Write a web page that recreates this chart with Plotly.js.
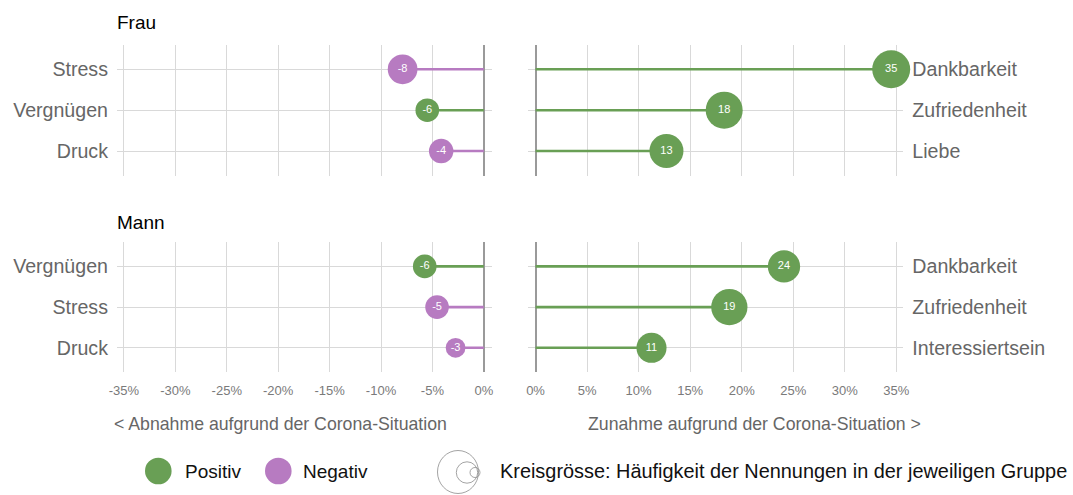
<!DOCTYPE html>
<html>
<head>
<meta charset="utf-8">
<script src="https://cdn.plot.ly/plotly-3.0.1.min.js"></script>
<style>
  body { margin: 0; background: #fff; }
  #chart { width: 1073px; height: 495px; }
</style>
</head>
<body>
<div id="chart"></div>
<script>
// Frau, Abnahme
var frauNegKat = ["Stress", "Vergnügen", "Druck"];
var frauNegWert = [-7.9, -5.5, -4.15];
var frauNegLabel = ["-8", "-6", "-4"];
var frauNegN = [84, 53, 57];
var frauNegTyp = ["Negativ", "Positiv", "Negativ"];

// Frau, Zunahme
var frauPosKat = ["Dankbarkeit", "Zufriedenheit", "Liebe"];
var frauPosWert = [34.5, 18.3, 12.7];
var frauPosLabel = ["35", "18", "13"];
var frauPosN = [137, 130, 110];
var frauPosTyp = ["Positiv", "Positiv", "Positiv"];

// Mann, Abnahme
var mannNegKat = ["Vergnügen", "Stress", "Druck"];
var mannNegWert = [-5.75, -4.55, -2.75];
var mannNegLabel = ["-6", "-5", "-3"];
var mannNegN = [53, 53, 37];
var mannNegTyp = ["Positiv", "Negativ", "Negativ"];

// Mann, Zunahme
var mannPosKat = ["Dankbarkeit", "Zufriedenheit", "Interessiertsein"];
var mannPosWert = [24.1, 18.8, 11.25];
var mannPosLabel = ["24", "19", "11"];
var mannPosN = [99, 125, 86];
var mannPosTyp = ["Positiv", "Positiv", "Positiv"];

var tickNeg = [-35, -30, -25, -20, -15, -10, -5, 0];
var tickNegText = ["-35%", "-30%", "-25%", "-20%", "-15%", "-10%", "-5%", "0%"];
var tickPos = [0, 5, 10, 15, 20, 25, 30, 35];
var tickPosText = ["0%", "5%", "10%", "15%", "20%", "25%", "30%", "35%"];

var farben = { Positiv: "#699f55", Negativ: "#b77bc1" };
var schrift = "Helvetica, 'Liberation Sans', Arial, sans-serif";

function panel(kat, wert, label, n, typ, xa, ya) {
  var traces = [];
  for (var i = 0; i < kat.length; i++) {
    traces.push({
      type: "scatter", mode: "lines",
      x: [0, wert[i]], y: [kat[i], kat[i]],
      xaxis: xa, yaxis: ya,
      line: { color: farben[typ[i]], width: 2.6 },
      hoverinfo: "skip", showlegend: false
    });
  }
  traces.push({
    type: "scatter", mode: "markers+text",
    x: wert, y: kat, text: label,
    xaxis: xa, yaxis: ya,
    cliponaxis: false,
    textposition: "middle center",
    textfont: { family: schrift, size: 11, color: "#ffffff" },
    marker: {
      size: n, sizemode: "area", sizeref: 0.19,
      color: typ.map(function (t) { return farben[t]; }),
      line: { width: 0 }, opacity: 1
    },
    hoverinfo: "skip", showlegend: false
  });
  return traces;
}

var data = []
  .concat(panel(frauNegKat, frauNegWert, frauNegLabel, frauNegN, frauNegTyp, "x", "y"))
  .concat(panel(frauPosKat, frauPosWert, frauPosLabel, frauPosN, frauPosTyp, "x2", "y2"))
  .concat(panel(mannNegKat, mannNegWert, mannNegLabel, mannNegN, mannNegTyp, "x3", "y3"))
  .concat(panel(mannPosKat, mannPosWert, mannPosLabel, mannPosN, mannPosTyp, "x4", "y4"));

var domLinks = [0.1090, 0.4583];
var domRechts = [0.4917, 0.8419];
var domOben = [0.6453, 0.9095];
var domUnten = [0.2481, 0.5111];

function xAchse(dom, range, vals, texte, anchor, zeigen) {
  return {
    domain: dom, range: range, anchor: anchor,
    tickvals: vals, ticktext: texte, showticklabels: zeigen,
    ticks: "", ticklabelstandoff: 9,
    tickfont: { family: schrift, size: 13, color: "#7a7a7a" },
    showgrid: true, gridcolor: "#d9d9d9", gridwidth: 1,
    zeroline: true, zerolinecolor: "#9a9a9a", zerolinewidth: 2,
    showline: false, fixedrange: true
  };
}
function yAchse(dom, kat, anchor, seite) {
  return {
    domain: dom, anchor: anchor, side: seite,
    type: "category", categoryorder: "array", categoryarray: kat,
    range: [2.6, -0.6],
    ticks: "", ticklabelstandoff: 8,
    tickfont: { family: schrift, size: 19.6, color: "#666666" },
    showgrid: true, gridcolor: "#d9d9d9", gridwidth: 1,
    zeroline: false, showline: false, fixedrange: true
  };
}

var shapes = [
  { type: "circle", xref: "paper", yref: "paper", xsizemode: "pixel", ysizemode: "pixel",
    xanchor: 158.3 / 1073, yanchor: 1 - 471 / 495, x0: -13.3, x1: 13.3, y0: -13.3, y1: 13.3,
    fillcolor: farben.Positiv, line: { width: 0 } },
  { type: "circle", xref: "paper", yref: "paper", xsizemode: "pixel", ysizemode: "pixel",
    xanchor: 278.3 / 1073, yanchor: 1 - 471 / 495, x0: -13.3, x1: 13.3, y0: -13.3, y1: 13.3,
    fillcolor: farben.Negativ, line: { width: 0 } },
  { type: "circle", xref: "paper", yref: "paper", xsizemode: "pixel", ysizemode: "pixel",
    xanchor: 458 / 1073, yanchor: 1 - 472 / 495, x0: -20.5, x1: 20.5, y0: -21.5, y1: 21.5,
    line: { color: "#8c8c8c", width: 0.8 } },
  { type: "circle", xref: "paper", yref: "paper", xsizemode: "pixel", ysizemode: "pixel",
    xanchor: 467 / 1073, yanchor: 1 - 472.5 / 495, x0: -10.7, x1: 10.7, y0: -10.7, y1: 10.7,
    line: { color: "#8c8c8c", width: 0.8 } },
  { type: "circle", xref: "paper", yref: "paper", xsizemode: "pixel", ysizemode: "pixel",
    xanchor: 475 / 1073, yanchor: 1 - 472.5 / 495, x0: -5, x1: 5, y0: -5, y1: 5,
    line: { color: "#8c8c8c", width: 0.8 } }
];

function notiz(text, x, y, xanchor, groesse, farbe) {
  return {
    text: text, xref: "paper", yref: "paper", x: x, y: y,
    xanchor: xanchor, yanchor: "middle", showarrow: false,
    font: { family: schrift, size: groesse, color: farbe }
  };
}

var annotations = [
  notiz("Frau", 115 / 1073, 1 - 23 / 495, "left", 19, "#000000"),
  notiz("Mann", 115 / 1073, 1 - 222 / 495, "left", 19, "#000000"),
  notiz("&lt; Abnahme aufgrund der Corona-Situation", 112 / 1073, 1 - 424 / 495, "left", 17.7, "#666666"),
  notiz("Zunahme aufgrund der Corona-Situation &gt;", 923 / 1073, 1 - 424 / 495, "right", 17.7, "#666666"),
  notiz("Positiv", 183 / 1073, 1 - 471 / 495, "left", 19, "#111111"),
  notiz("Negativ", 301 / 1073, 1 - 471 / 495, "left", 19, "#111111"),
  notiz("Kreisgrösse: Häufigkeit der Nennungen in der jeweiligen Gruppe", 498 / 1073, 1 - 471 / 495, "left", 19.9, "#111111")
];

var layout = {
  width: 1073, height: 495,
  margin: { l: 0, r: 0, t: 0, b: 0 },
  paper_bgcolor: "#ffffff", plot_bgcolor: "#ffffff",
  showlegend: false,
  font: { family: schrift },
  xaxis: xAchse(domLinks, [-35.68, 0.77], tickNeg, tickNegText, "y", false),
  yaxis: yAchse(domOben, frauNegKat, "x", "left"),
  xaxis2: xAchse(domRechts, [-0.77, 35.68], tickPos, tickPosText, "y2", false),
  yaxis2: yAchse(domOben, frauPosKat, "x2", "right"),
  xaxis3: xAchse(domLinks, [-35.68, 0.77], tickNeg, tickNegText, "y3", true),
  yaxis3: yAchse(domUnten, mannNegKat, "x3", "left"),
  xaxis4: xAchse(domRechts, [-0.77, 35.68], tickPos, tickPosText, "y4", true),
  yaxis4: yAchse(domUnten, mannPosKat, "x4", "right"),
  shapes: shapes,
  annotations: annotations
};

Plotly.newPlot("chart", data, layout, { displayModeBar: false, staticPlot: true });
</script>
</body>
</html>
